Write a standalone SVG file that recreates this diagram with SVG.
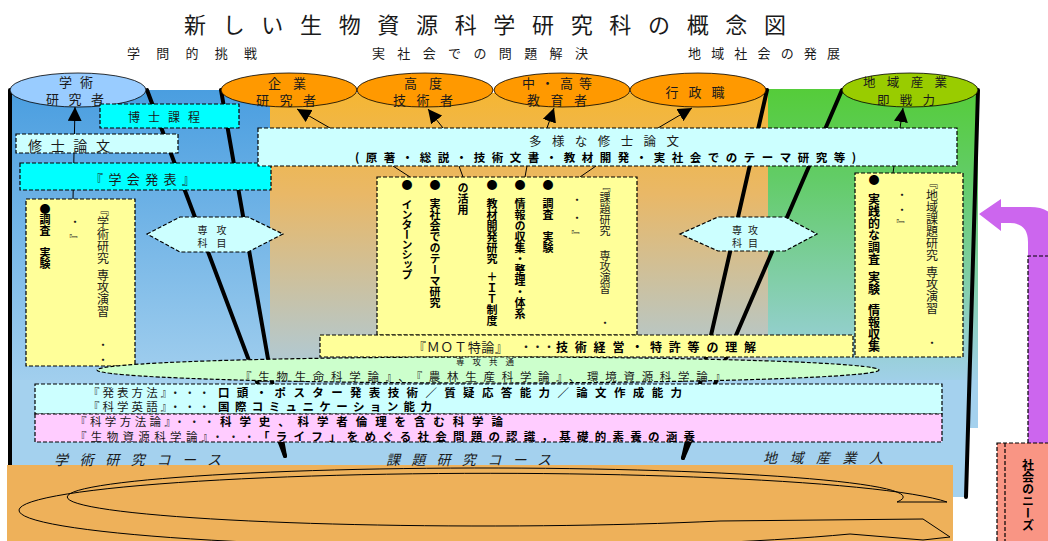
<svg xmlns="http://www.w3.org/2000/svg" width="1048" height="541" viewBox="0 0 1048 541">
<defs>
<linearGradient id="gBlue" x1="0" y1="0" x2="0" y2="1"><stop offset="0" stop-color="#4a9ee0"/><stop offset="1" stop-color="#a2cfee"/></linearGradient>
<linearGradient id="gOrange" x1="0" y1="0" x2="0" y2="1"><stop offset="0" stop-color="#f5b634"/><stop offset="0.35" stop-color="#e9b867"/><stop offset="1" stop-color="#aacbe0"/></linearGradient>
<linearGradient id="gGreen" x1="0" y1="0" x2="0" y2="1"><stop offset="0" stop-color="#55cc3a"/><stop offset="0.3" stop-color="#62cc66"/><stop offset="1" stop-color="#a0d0e8"/></linearGradient>
<marker id="ah" viewBox="0 0 14 14" refX="14" refY="7" markerWidth="14" markerHeight="14" markerUnits="userSpaceOnUse" orient="auto"><path d="M0,0 L14,7 L0,14 z" fill="#000"/></marker>
</defs>
<style>
text{font-family:"Noto Sans CJK JP","Noto Sans CJK SC",sans-serif;fill:#1a1a1a}
.b{font-weight:bold;fill:#000}
.v{writing-mode:vertical-rl}
.box{stroke:#000;stroke-width:1.2;stroke-dasharray:4 2}
.thick{stroke:#000;stroke-width:4;fill:none;stroke-linecap:round}
.thin{stroke:#000;stroke-width:1;fill:none}
.arr{stroke:#000;stroke-width:1;fill:none;marker-end:url(#ah)}
.cyl{stroke:#000;stroke-width:0.8}
.it{font-style:italic}
</style>

<!-- backgrounds -->
<g id="background">
<rect x="10" y="90" width="260" height="293" fill="url(#gBlue)"/>
<rect x="270" y="93" width="498" height="290" fill="url(#gOrange)"/>
<rect x="768" y="89" width="210" height="291" fill="url(#gGreen)"/>
<polygon points="10,380 978,380 978,428 966,428 966,497 10,497" fill="#a4d1ee"/>
</g>

<!-- title -->
<g id="title">
<text x="184" y="33" font-size="22" textLength="602" lengthAdjust="spacing">新しい生物資源科学研究科の概念図</text>
<text x="127" y="58" font-size="13" textLength="130" lengthAdjust="spacing">学問的挑戦</text>
<text x="372" y="58" font-size="13" textLength="216" lengthAdjust="spacing">実社会での問題解決</text>
<text x="688" y="58" font-size="13" textLength="152" lengthAdjust="spacing">地域社会の発展</text>
</g>

<!-- connectors -->
<g id="connectors">
<line class="thick" x1="10" y1="90" x2="10" y2="497"/>
<polyline class="thick" points="147,90 285,456"/>
<polyline class="thick" points="221,90 285,456"/>
<polyline class="thick" points="767,90 683,458"/>
<polyline class="thick" points="842,90 683,458"/>
<line class="thick" x1="978" y1="90" x2="966" y2="497"/>
<line class="arr" x1="73" y1="199" x2="75" y2="107"/>
<line class="arr" x1="330" y1="128" x2="297" y2="109"/>
<line class="arr" x1="443" y1="128" x2="428" y2="109"/>
<line class="arr" x1="547" y1="128" x2="554" y2="108"/>
<line class="arr" x1="658" y1="128" x2="692" y2="108"/>
<line class="arr" x1="900" y1="128" x2="903" y2="108"/>
<line class="thin" x1="393" y1="166" x2="410" y2="177"/>
<line class="thin" x1="459" y1="166" x2="463" y2="177"/>
<line class="thin" x1="527" y1="166" x2="525" y2="177"/>
<line class="thin" x1="596" y1="166" x2="580" y2="177"/>
<line class="thin" x1="894" y1="166" x2="893" y2="173"/>
</g>

<!-- bottom ring -->
<g id="cycle">
<rect x="7" y="465" width="946" height="76" fill="#eeb15a"/>
<path d="M947,502 A470,37 0 1 0 850,534 L923,540 L950,537 L923,519 L720,521 A418,29 0 1 1 897,502 Z" fill="#eeb15a" stroke="#000" stroke-width="1"/>
</g>

<!-- cylinders -->
<g id="n-gakujutsu">
<ellipse class="cyl" cx="78" cy="90" rx="68" ry="17" fill="#99ccff"/>
<text x="76" y="87" font-size="13" text-anchor="middle" textLength="34" lengthAdjust="spacing">学術</text>
<text x="75" y="104" font-size="13" text-anchor="middle" textLength="58" lengthAdjust="spacing">研究者</text>
</g>
<g id="n-kigyo">
<ellipse class="cyl" cx="289" cy="90" rx="68" ry="17" fill="#ff9900"/>
<text x="287" y="88" font-size="13" text-anchor="middle" textLength="38" lengthAdjust="spacing">企業</text>
<text x="286" y="105" font-size="13" text-anchor="middle" textLength="60" lengthAdjust="spacing">研究者</text>
</g>
<g id="n-kodo">
<ellipse class="cyl" cx="425" cy="90" rx="68" ry="17" fill="#ff9900"/>
<text x="423" y="88" font-size="13" text-anchor="middle" textLength="38" lengthAdjust="spacing">高度</text>
<text x="423" y="105" font-size="13" text-anchor="middle" textLength="60" lengthAdjust="spacing">技術者</text>
</g>
<g id="n-kyoiku">
<ellipse class="cyl" cx="562" cy="90" rx="68" ry="17" fill="#ff9900"/>
<text x="557" y="88" font-size="13" text-anchor="middle" textLength="70" lengthAdjust="spacing">中・高等</text>
<text x="557" y="105" font-size="13" text-anchor="middle" textLength="60" lengthAdjust="spacing">教育者</text>
</g>
<g id="n-gyosei">
<ellipse class="cyl" cx="698" cy="90" rx="68" ry="17" fill="#ff9900"/>
<text x="695" y="97" font-size="13" text-anchor="middle" textLength="59" lengthAdjust="spacing">行政職</text>
</g>
<g id="n-chiiki">
<ellipse class="cyl" cx="910" cy="90" rx="68" ry="17" fill="#99cc00"/>
<text x="905" y="87" font-size="12.5" text-anchor="middle" textLength="84" lengthAdjust="spacing">地域産業</text>
<text x="906" y="105" font-size="12.5" text-anchor="middle" textLength="58" lengthAdjust="spacing">即戦力</text>
</g>

<!-- boxes -->
<g id="n-hakase">
<rect class="box" x="100" y="104" width="139" height="24" fill="#00ffff"/>
<text x="128" y="122" font-size="12" textLength="72" lengthAdjust="spacing">博士課程</text>
</g>
<g id="n-shushi">
<rect class="box" x="16" y="134" width="162" height="19" fill="#ccffff"/>
<text x="28" y="151" font-size="14" textLength="82" lengthAdjust="spacing">修士論文</text>
</g>
<g id="n-gakkai">
<rect class="box" x="20" y="163" width="251" height="27" fill="#00ffff"/>
<text x="90" y="184" font-size="13" textLength="105" lengthAdjust="spacing">『学会発表』</text>
</g>
<g id="n-tayo">
<rect class="box" x="258" y="128" width="699" height="38" fill="#ccffff"/>
<text x="529" y="146" font-size="12.5" textLength="150" lengthAdjust="spacing">多様な修士論文</text>
<text class="b" x="355" y="162" font-size="11.5" textLength="501" lengthAdjust="spacing">(原著・総説・技術文書・教材開発・実社会でのテーマ研究等)</text>
</g>

<g id="n-left-yellow">
<rect class="box" x="26" y="199" width="109" height="167" fill="#ffff99"/>
<text class="b v" x="45" y="203" font-size="11">●調査　実験</text>
<text class="v" x="75" y="216" font-size="11" letter-spacing="7">・』</text>
<text class="v" x="103" y="204" font-size="12">『学術研究</text>
<text class="v" x="103" y="269" font-size="12">専攻演習</text>
<text x="103" y="349" font-size="11" text-anchor="middle">・</text>
<text x="103" y="364" font-size="11" text-anchor="middle">・</text>
</g>

<g id="n-mid-yellow">
<rect class="box" x="377" y="177" width="260" height="158" fill="#ffff99"/>
<text class="b" x="407" y="189" font-size="11" text-anchor="middle">●</text>
<text class="b" x="435" y="189" font-size="11" text-anchor="middle">●</text>
<text class="b" x="492" y="189" font-size="11" text-anchor="middle">●</text>
<text class="b" x="520" y="189" font-size="11" text-anchor="middle">●</text>
<text class="b" x="548" y="189" font-size="11" text-anchor="middle">●</text>
<text class="b v" x="407" y="199" font-size="11" letter-spacing="-1">インターンシップ</text>
<text class="b v" x="435" y="198" font-size="11">実社会でのテーマ研究</text>
<text class="b v" x="463" y="182" font-size="11">の活用</text>
<text class="b v" x="492" y="198" font-size="11">教材開発研究</text>
<text class="b v" x="492" y="271" font-size="11">＋ＩＴ制度</text>
<text class="b v" x="520" y="198" font-size="11">情報の収集・整理・体系</text>
<text class="b v" x="548" y="198" font-size="11">調査　実験</text>
<text class="v" x="577" y="194" font-size="11" letter-spacing="7">・・』</text>
<text class="v" x="605" y="181" font-size="11">『課題研究</text>
<text class="v" x="605" y="250" font-size="11">専攻演習</text>
<text x="605" y="327" font-size="11" text-anchor="middle">・</text>
</g>

<g id="n-right-yellow">
<rect class="box" x="855" y="173" width="108" height="184" fill="#ffff99"/>
<text class="b" x="874" y="184" font-size="11" text-anchor="middle">●</text>
<text class="b v" x="874" y="193" font-size="12">実践的な調査</text>
<text class="b v" x="874" y="271" font-size="12">実験</text>
<text class="b v" x="874" y="304" font-size="12">情報収集</text>
<text class="v" x="902" y="189" font-size="11" letter-spacing="4">・・』</text>
<text class="v" x="932" y="177" font-size="12">『地域課題研究</text>
<text class="v" x="932" y="266" font-size="12">専攻演習</text>
<text x="932" y="347" font-size="11" text-anchor="middle">・</text>
</g>

<g id="n-senko-left">
<polygon class="box" points="147,234 180,217 248,217 283,234 248,252 180,252" fill="#ccffff"/>
<text x="212" y="234" font-size="10" text-anchor="middle" textLength="29" lengthAdjust="spacing">専攻</text>
<text x="212" y="247" font-size="10" text-anchor="middle" textLength="29" lengthAdjust="spacing">科目</text>
</g>
<g id="n-senko-right">
<polygon class="box" points="680,234 718,217 785,217 817,234 785,251 718,251" fill="#ccffff"/>
<text x="745" y="234" font-size="10" text-anchor="middle" textLength="26" lengthAdjust="spacing">専攻</text>
<text x="745" y="247" font-size="10" text-anchor="middle" textLength="26" lengthAdjust="spacing">科目</text>
</g>

<g id="n-mot">
<rect class="box" x="320" y="335" width="533" height="22" fill="#ffff99"/>
<text x="413" y="352" font-size="13" textLength="95" lengthAdjust="spacing">『ＭＯＴ特論』</text>
<text x="520" y="352" font-size="12" textLength="35" lengthAdjust="spacing">・・・</text>
<text class="b" x="556" y="352" font-size="12" textLength="200" lengthAdjust="spacing">技術経営・特許等の理解</text>
</g>

<g id="n-kyotsu">
<ellipse class="box" cx="488" cy="370" rx="391" ry="13" fill="#ccffcc" stroke="#555"/>
<text x="485" y="365" font-size="8.5" text-anchor="middle" textLength="58" lengthAdjust="spacing">専攻共通</text>
<text x="240" y="381" font-size="11.5" fill="#333" textLength="486" lengthAdjust="spacing">『生物生命科学論』、『農林生産科学論』、環境資源科学論』</text>
</g>

<g id="n-common">
<rect class="box" x="35" y="384" width="907" height="30" fill="#ccffff"/>
<rect class="box" x="35" y="414" width="907" height="28" fill="#ffccff"/>
<text x="88" y="397" font-size="11.5" textLength="122" lengthAdjust="spacing">『発表方法』・・・</text>
<text class="b" x="218" y="397" font-size="11.5" textLength="464" lengthAdjust="spacing">口頭・ポスター発表技術／質疑応答能力／論文作成能力</text>
<text x="88" y="411" font-size="11.5" textLength="122" lengthAdjust="spacing">『科学英語』・・・</text>
<text class="b" x="218" y="411" font-size="11.5" textLength="214" lengthAdjust="spacing">国際コミュニケーション能力</text>
<text x="75" y="426" font-size="11.5" textLength="140" lengthAdjust="spacing">『科学方法論』・・・</text>
<text class="b" x="220" y="426" font-size="11.5" textLength="283" lengthAdjust="spacing">科学史、科学者倫理を含む科学論</text>
<text x="75" y="441" font-size="11.5" textLength="180" lengthAdjust="spacing">『生物資源科学論』・・・</text>
<text class="b" x="258" y="441" font-size="11.5" textLength="437" lengthAdjust="spacing">「ライフ」をめぐる社会問題の認識，基礎的素養の涵養</text>
</g>

<g id="courses">
<text class="it" x="54" y="465" font-size="14" textLength="167" lengthAdjust="spacing">学術研究コース</text>
<text class="it" x="386" y="465" font-size="14" textLength="165" lengthAdjust="spacing">課題研究コース</text>
<text class="it" x="763" y="463" font-size="14" textLength="120" lengthAdjust="spacing">地域産業人</text>
</g>

<g id="n-needs">
<path d="M1028,443 L1028,242 Q1028,223 1010,223 L1001,223 L1001,231 L979,214 L1001,199 L1001,207 L1030,207 Q1060,207 1060,240 L1060,443 Z" fill="#cc66ee"/>
<path class="box" d="M1028,443 L1028,256 L1060,256" fill="none"/>
<rect class="box" x="997" y="443" width="70" height="105" fill="#f99584"/>
<line class="box" x1="1005" y1="443" x2="1005" y2="541"/>
<text class="b v" x="1028" y="459" font-size="12">社会のニーズ</text>
</g>
</svg>
